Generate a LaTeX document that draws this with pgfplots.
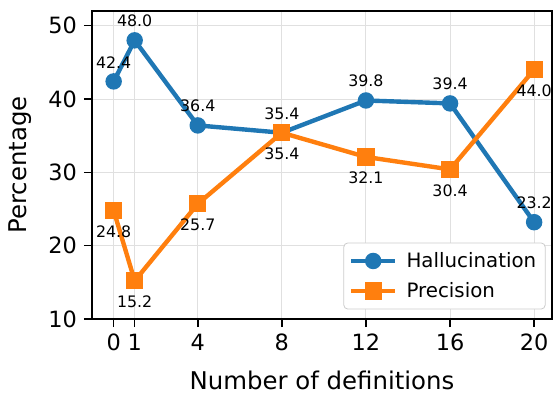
\documentclass[border=0pt]{standalone}
\usepackage{pgfplots}
\pgfplotsset{compat=1.18}
\usepackage{fontspec}
\setmainfont{DejaVu Sans}
\definecolor{tabblue}{HTML}{1F77B4}
\definecolor{taborange}{HTML}{FF7F0E}
\begin{document}
\begin{tikzpicture}
\begin{axis}[
  at={(0,0)}, anchor=south west,
  scale only axis, width=230pt, height=154pt,
  xmin=-1.03, xmax=20.85, ymin=10, ymax=52,
  xtick={0,1,4,8,12,16,20},
  ytick={10,20,30,40,50},
  /pgf/number format/assume math mode=true,
  tick align=outside, major tick length=4pt,
  tick style={line width=0.8pt, black},
  xtick pos=bottom, ytick pos=left,
  ticklabel style={font=\fontsize{11.2}{13}\selectfont},
  grid=major, grid style={line width=0.5pt, black!12},
  axis line style={line width=0.8pt},
  xlabel={Number of definitions}, ylabel={Percentage},
  label style={font=\fontsize{12.2}{14}\selectfont},
  xlabel style={at={(axis description cs:0.5,-0.198)}, anchor=center},
  ylabel style={at={(axis description cs:-0.1565,0.5)}, anchor=center},
  legend style={at={(axis description cs:0.986,0.031)}, anchor=south east,
    font=\fontsize{9.9}{12}\selectfont, draw=black!20, rounded corners=2pt,
    fill=white, inner sep=2.5pt,
    row sep=2pt, /tikz/every odd column/.append style={column sep=2.5pt}},
  legend cell align=left,
  legend image code/.code={\draw[mark repeat=2,mark phase=2] plot coordinates {(0cm,0cm) (0.39cm,0cm) (0.78cm,0cm)};},
  nodes near coords={\pgfmathprintnumber[fixed,fixed zerofill,precision=1]{\pgfplotspointmeta}},
  every node near coord/.append style={font=\fontsize{7.9}{9}\selectfont, text=black, inner sep=0pt},
]
\addplot[color=tabblue, line width=2.2pt, mark=*, mark size=3pt,
  every node near coord/.append style={anchor=south, yshift=5.6pt}]
  coordinates {(0,42.4) (1,48.0) (4,36.4) (8,35.4) (12,39.8) (16,39.4) (20,23.2)};
\addlegendentry{Hallucination}
\addplot[color=taborange, line width=2.2pt, mark=square*, mark size=3.2pt,
  every node near coord/.append style={anchor=north, yshift=-6.5pt}]
  coordinates {(0,24.8) (1,15.2) (4,25.7) (8,35.4) (12,32.1) (16,30.4) (20,44.0)};
\addlegendentry{Precision}
\end{axis}
\pgfresetboundingbox
\path (-46pt,-36.5pt) rectangle (231.5pt,159.5pt);
\end{tikzpicture}
\end{document}
